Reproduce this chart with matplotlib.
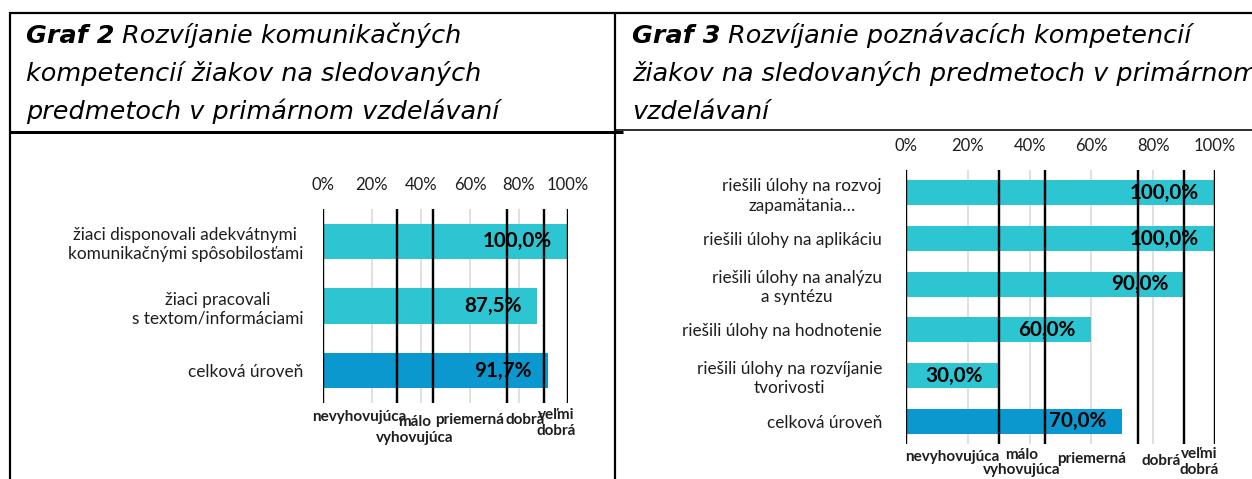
import matplotlib
matplotlib.use("Agg")
import matplotlib.pyplot as plt
from matplotlib.lines import Line2D

# ---------------- data ----------------
title2_bold = "Graf 2"
title2_lines = ["Rozvíjanie komunikačných",
                "kompetencií žiakov na sledovaných",
                "predmetoch v primárnom vzdelávaní"]
title3_bold = "Graf 3"
title3_lines = ["Rozvíjanie poznávacích kompetencií",
                "žiakov na sledovaných predmetoch v primárnom",
                "vzdelávaní"]

cats2 = ["žiaci disponovali adekvátnymi\nkomunikačnými spôsobilosťami",
         "žiaci pracovali\ns textom/informáciami",
         "celková úroveň"]
vals2 = [100.0, 87.5, 91.7]

cats3 = ["riešili úlohy na rozvoj\nzapamätania…",
         "riešili úlohy na aplikáciu",
         "riešili úlohy na analýzu\na syntézu",
         "riešili úlohy na hodnotenie",
         "riešili úlohy na rozvíjanie\ntvorivosti",
         "celková úroveň"]
vals3 = [100.0, 100.0, 90.0, 60.0, 30.0, 70.0]

thresholds = [0, 30, 45, 75, 90, 100]
levels = ["nevyhovujúca", "málo\nvyhovujúca", "priemerná", "dobrá", "veľmi\ndobrá"]
xticks = [0, 20, 40, 60, 80, 100]
xticklabels = ["0%", "20%", "40%", "60%", "80%", "100%"]

# ---------------- style ----------------
W, H = 1252, 479
FONT = "Lato"
TFONT = ["DejaVu Sans"]
plt.rcParams['font.family'] = [FONT, 'DejaVu Sans']
TEAL = "#2DC5D2"
BLUE = "#0B98CF"
GRID = "#D9D9D9"
TXT = "#1E1E1E"
PX = 0.72  # points per pixel at dpi 100

fig = plt.figure(figsize=(W / 100, H / 100), dpi=100)
renderer = fig.canvas.get_renderer()


def fx(x):
    return x / W


def fy(y):
    return 1 - y / H


# table borders
def hline(y, x0, x1, lw):
    fig.add_artist(Line2D([fx(x0), fx(x1)], [fy(y), fy(y)], color="black", lw=lw * PX,
                          transform=fig.transFigure, solid_capstyle="butt"))


def vline(x, y0, y1, lw):
    fig.add_artist(Line2D([fx(x), fx(x)], [fy(y0), fy(y1)], color="black", lw=lw * PX,
                          transform=fig.transFigure, solid_capstyle="butt"))


hline(12.5, 9, W, 2.2)
vline(10, 11.5, H, 2.2)
vline(615, 11.5, H, 2.2)
hline(131.5, 9, 623, 3.0)
hline(130, 615, W, 1.6)

# title size fitted so that the last line of Graf 2 title spans ~472 px
probe = fig.text(0, 0, title2_lines[2], fontsize=20, style="italic", family=TFONT)
pw = probe.get_window_extent(renderer).width
probe.remove()
TSIZE = 20 * 472 / pw


def draw_title(x0, base, bold, lines, size=TSIZE, spacing=38):
    t = fig.text(fx(x0), fy(base), bold, fontsize=size, fontweight="bold", style="italic",
                 va="baseline", ha="left", color="black", family=TFONT)
    bb = t.get_window_extent(renderer)
    fig.text(fx(x0 + bb.width + size / PX * 0.3), fy(base), lines[0], fontsize=size,
             style="italic", va="baseline", ha="left", color="black", family=TFONT)
    for i, ln in enumerate(lines[1:], start=1):
        fig.text(fx(x0), fy(base + i * spacing), ln, fontsize=size, style="italic",
                 va="baseline", ha="left", color="black", family=TFONT)


draw_title(26, 43, title2_bold, title2_lines)
draw_title(632, 43, title3_bold, title3_lines)


def draw_chart(rect, cats, vals, ypad, tickpad, level_offsets):
    x0, y0, x1, y1 = rect
    ax = fig.add_axes([fx(x0), fy(y1), fx(x1 - x0), (y1 - y0) / H])
    n = len(cats)
    ax.set_xlim(0, 100)
    ax.set_ylim(n - 0.5, -0.5)
    colors = [TEAL] * (n - 1) + [BLUE]
    ax.barh(range(n), vals, height=0.55, color=colors, zorder=2)
    for g in xticks[1:-1]:
        ax.axvline(g, color=GRID, lw=1.6 * PX, zorder=1)
    for t in thresholds:
        ax.axvline(t, color="black", lw=2.4 * PX, zorder=3)
    for i, v in enumerate(vals):
        ax.annotate(f"{v:.1f}%".replace(".", ","), xy=(v, i), xytext=(-16 * PX, 0),
                    textcoords="offset points", ha="right", va="center",
                    fontsize=14.9, fontweight="bold", color="black", zorder=4)
    for k, lab in enumerate(levels):
        mid = (thresholds[k] + thresholds[k + 1]) / 2
        ax.annotate(lab, xy=(mid, 0), xycoords=("data", "axes fraction"),
                    xytext=(0, -level_offsets[k] * PX), textcoords="offset points",
                    ha="center", va="center", fontsize=11, fontweight="bold",
                    color=TXT, linespacing=1.1, annotation_clip=False)
    ax.set_yticks(range(n))
    ax.set_yticklabels(cats, fontsize=12.4, color=TXT, linespacing=1.25)
    for lbl in ax.get_yticklabels():
        lbl.set_multialignment("center")
    ax.tick_params(axis="y", length=0, pad=ypad * PX)
    ax.xaxis.tick_top()
    ax.set_xticks(xticks)
    ax.set_xticklabels(xticklabels, fontsize=12, color=TXT)
    ax.tick_params(axis="x", length=0, pad=tickpad * PX)
    for s in ax.spines.values():
        s.set_visible(False)
    ax.patch.set_alpha(0)
    return ax


draw_chart((323, 209, 568, 403), cats2, vals2, 20, 16, [14, 27, 17, 17, 20])
draw_chart((906, 170, 1215, 444), cats3, vals3, 24, 16, [13, 18.5, 15, 17, 18])

fig.savefig("out.png", dpi=100)
